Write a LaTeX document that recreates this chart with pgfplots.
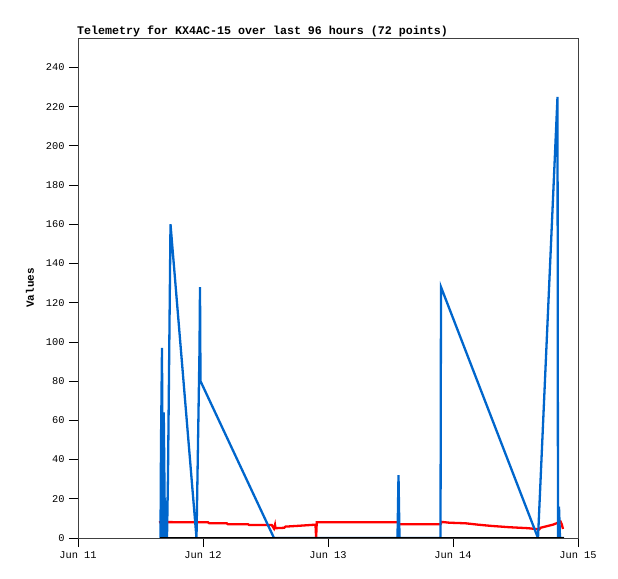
\documentclass[border=0pt]{standalone}
\usepackage{pgfplots}
\pgfplotsset{compat=1.18}
\usepackage{fontspec}
\setmainfont{Liberation Mono}
\definecolor{tlblue}{RGB}{0,102,204}
\definecolor{tlred}{RGB}{255,0,0}
\definecolor{frame}{RGB}{64,64,64}

% days since Jun 11 00:00
\begin{document}
\begin{tikzpicture}
\path[use as bounding box] (-78bp,-41bp) rectangle (540bp,538bp);
\begin{axis}[
    at={(0,0)}, anchor=south west,
    scale only axis, width=500bp, height=500bp,
    xmin=0, xmax=4, ymin=0, ymax=255,
    xtick={0,1,2,3,4},
    xticklabels={Jun 11,Jun 12,Jun 13,Jun 14,Jun 15},
    ytick={0,20,...,240},
    tick align=outside, xtick pos=bottom, ytick pos=left,
    major tick length=9bp,
    tick style={black, line width=0.8bp},
    axis line style={frame, line width=0.8bp},
    /pgf/number format/assume math mode=true,
    ticklabel style={font=\fontsize{10.4}{12}\selectfont},
    yticklabel style={xshift=-1bp},
    xticklabel style={yshift=-1bp},
    title={Telemetry for KX4AC-15 over last 96 hours (72 points)},
    title style={at={(0,1)}, anchor=base west, yshift=-2bp, xshift=-1bp, inner sep=0pt,
        font=\fontsize{11.7}{13}\selectfont\bfseries},
    ylabel={Values},
    ylabel style={at={(axis description cs:-0.096,0.5)}, anchor=center,
        font=\fontsize{11}{13}\selectfont\bfseries},
    clip=true,
]
\addplot[tlred, line width=2.3bp] coordinates {
(0.648,8.0) (0.70,8.1) (1.040,8.0) (1.050,7.5) (1.190,7.5) (1.200,7.0)
(1.360,7.0) (1.370,6.6) (1.550,6.6) (1.568,4.8) (1.576,6.7) (1.580,5.0)
(1.650,5.2) (1.660,5.8) (1.760,6.2) (1.900,6.8) (1.905,0) (1.910,8.0)
(2.560,8.0) (2.570,7.0) (2.900,7.0) (2.910,8.2) (2.970,7.8) (3.100,7.5)
(3.200,6.8) (3.300,6.2) (3.450,5.5) (3.600,5.0) (3.660,4.6) (3.690,4.4)
(3.700,5.2) (3.750,6.0) (3.800,6.8) (3.840,7.8) (3.860,8.4) (3.870,7.0)
(3.880,4.6)
};
\addplot[tlblue, line width=2.3bp] coordinates {
(0.660,0) (0.664,48) (0.672,97) (0.678,0) (0.686,64) (0.696,0)
(0.704,19) (0.712,0) (0.720,32) (0.740,160) (0.948,0) (0.972,96)
(0.976,128) (0.980,80) (1.568,0) (2.556,0) (2.564,32) (2.568,16)
(2.572,0) (2.900,0) (2.904,128) (3.680,0) (3.836,225) (3.840,0)
(3.848,16) (3.856,0) (3.888,0)
};
\addplot[black, line width=2.5bp] coordinates {(0.656,0) (3.888,0)};
\end{axis}
\end{tikzpicture}
\end{document}
